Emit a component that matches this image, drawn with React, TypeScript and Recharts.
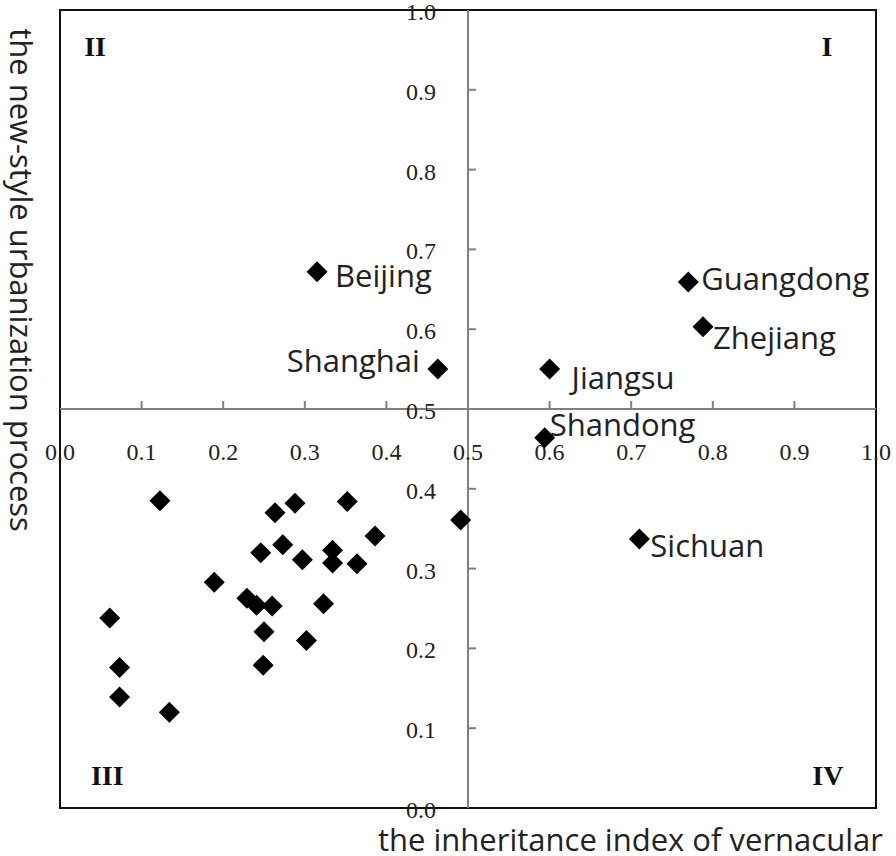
import { ScatterChart, Scatter, XAxis, YAxis, ReferenceArea, ReferenceLine } from 'recharts';

// labelled provinces
const namedProvinces = ['Beijing', 'Shanghai', 'Guangdong', 'Zhejiang', 'Jiangsu', 'Shandong', 'Sichuan'];
const namedInheritance = [0.315, 0.463, 0.770, 0.788, 0.600, 0.594, 0.710];
const namedUrbanization = [0.672, 0.550, 0.659, 0.603, 0.550, 0.464, 0.337];

// remaining provinces (unlabelled)
const otherInheritance = [
  0.491, 0.1225, 0.288, 0.352, 0.2635, 0.386, 0.273, 0.246, 0.334, 0.297, 0.334, 0.364,
  0.189, 0.229, 0.241, 0.260, 0.323, 0.061, 0.250, 0.302, 0.073, 0.249, 0.073, 0.134,
];
const otherUrbanization = [
  0.361, 0.385, 0.382, 0.384, 0.370, 0.341, 0.330, 0.320, 0.323, 0.311, 0.307, 0.306,
  0.283, 0.263, 0.254, 0.253, 0.256, 0.238, 0.221, 0.210, 0.176, 0.179, 0.139, 0.120,
];

const tickValues = [0, 0.1, 0.2, 0.3, 0.4, 0.5, 0.6, 0.7, 0.8, 0.9, 1.0];

const quadrantNames = ['I', 'II', 'III', 'IV'];
const quadrantX = [0.94, 0.043, 0.058, 0.941];
const quadrantY = [0.954, 0.954, 0.041, 0.041];

// where each name sits relative to its marker
const labelPlace: Record<string, { dx: number; dy: number; anchor: string }> = {
  Beijing: { dx: 18, dy: 3, anchor: 'start' },
  Shanghai: { dx: -18, dy: -9, anchor: 'end' },
  Guangdong: { dx: 13, dy: -4, anchor: 'start' },
  Zhejiang: { dx: 10, dy: 10, anchor: 'start' },
  Jiangsu: { dx: 22, dy: 8, anchor: 'start' },
  Shandong: { dx: 5, dy: -14, anchor: 'start' },
  Sichuan: { dx: 11, dy: 6, anchor: 'start' },
};

const namedRows = namedProvinces.map((name, i) => ({ name, x: namedInheritance[i], y: namedUrbanization[i] }));
const otherRows = otherInheritance.map((x, i) => ({ x, y: otherUrbanization[i] }));
const xTickRows = tickValues.map(t => ({ x: t, y: 0.5, t }));
const yTickRows = tickValues.map(t => ({ x: 0.5, y: t, t }));
const quadrantRows = quadrantNames.map((q, i) => ({ q, x: quadrantX[i], y: quadrantY[i] }));

const SANS = '"Open Sans", "Noto Sans", sans-serif';
const SERIF = '"Liberation Serif", "DejaVu Serif", serif';
const AXIS_GRAY = '#7f7f7f';

function Diamond({ cx, cy }: any) {
  const r = 10.5;
  return <polygon points={`${cx},${cy - r} ${cx + r},${cy} ${cx},${cy + r} ${cx - r},${cy}`} fill="#000" />;
}

function NamedPoint(props: any) {
  const { cx, cy, payload } = props;
  const p = labelPlace[payload.name];
  return (
    <g>
      <Diamond cx={cx} cy={cy} />
      <text x={cx + p.dx} y={cy + p.dy} textAnchor={p.anchor} dominantBaseline="central"
        fontFamily={SANS} fontSize={31} fill="#222">{payload.name}</text>
    </g>
  );
}

function fmt(t: number) {
  return t.toFixed(1);
}

function XTick({ cx, cy, payload }: any) {
  const mark = payload.t > 0 && payload.t < 1 && payload.t !== 0.5;
  return (
    <g>
      {mark && <line x1={cx} y1={cy} x2={cx} y2={cy - 8} stroke={AXIS_GRAY} strokeWidth={2} />}
      <text x={cx} y={cy + 43} textAnchor="middle" dominantBaseline="central"
        fontFamily={SERIF} fontSize={24} fill="#222">{fmt(payload.t)}</text>
    </g>
  );
}

function YTick({ cx, cy, payload }: any) {
  const mark = payload.t > 0 && payload.t < 1 && payload.t !== 0.5;
  return (
    <g>
      {mark && <line x1={cx} y1={cy} x2={cx + 8} y2={cy} stroke={AXIS_GRAY} strokeWidth={2} />}
      <text x={cx - 32} y={cy + 2} textAnchor="end" dominantBaseline="central"
        fontFamily={SERIF} fontSize={24} fill="#222">{fmt(payload.t)}</text>
    </g>
  );
}

function QuadrantLabel({ cx, cy, payload }: any) {
  return (
    <text x={cx} y={cy} textAnchor="middle" dominantBaseline="central"
      fontFamily={SERIF} fontWeight="bold" fontSize={28} fill="#111">{payload.q}</text>
  );
}

export default function App() {
  return (
    <div style={{ position: 'absolute', left: 0, top: 0, width: 896, height: 856, background: '#fff' }}>
      <ScatterChart width={896} height={856} margin={{ top: 10, right: 20, bottom: 48, left: 60 }}>
        <XAxis type="number" dataKey="x" domain={[0, 1]} hide />
        <YAxis type="number" dataKey="y" domain={[0, 1]} hide />
        <ReferenceArea x1={0} x2={1} y1={0} y2={1} fill="none" fillOpacity={0} stroke="#111" strokeWidth={2} />
        <ReferenceLine x={0.5} stroke={AXIS_GRAY} strokeWidth={2} />
        <ReferenceLine y={0.5} stroke={AXIS_GRAY} strokeWidth={2} />
        <Scatter data={xTickRows} shape={XTick} isAnimationActive={false} />
        <Scatter data={yTickRows} shape={YTick} isAnimationActive={false} />
        <Scatter data={quadrantRows} shape={QuadrantLabel} isAnimationActive={false} />
        <Scatter data={otherRows} shape={Diamond} isAnimationActive={false} />
        <Scatter data={namedRows} shape={NamedPoint} isAnimationActive={false} />
      </ScatterChart>
      <div style={{ position: 'absolute', left: 378, top: 823, fontFamily: SANS, fontSize: 31, lineHeight: '32px', color: '#222', whiteSpace: 'nowrap' }}>
        the inheritance index of vernacular
      </div>
      <div style={{
        position: 'absolute', left: 22, top: 280, transform: 'translate(-50%, -50%) rotate(90deg)',
        fontFamily: SANS, fontSize: 31, lineHeight: '34px', color: '#222', whiteSpace: 'nowrap',
      }}>
        the new-style urbanization process
      </div>
    </div>
  );
}
